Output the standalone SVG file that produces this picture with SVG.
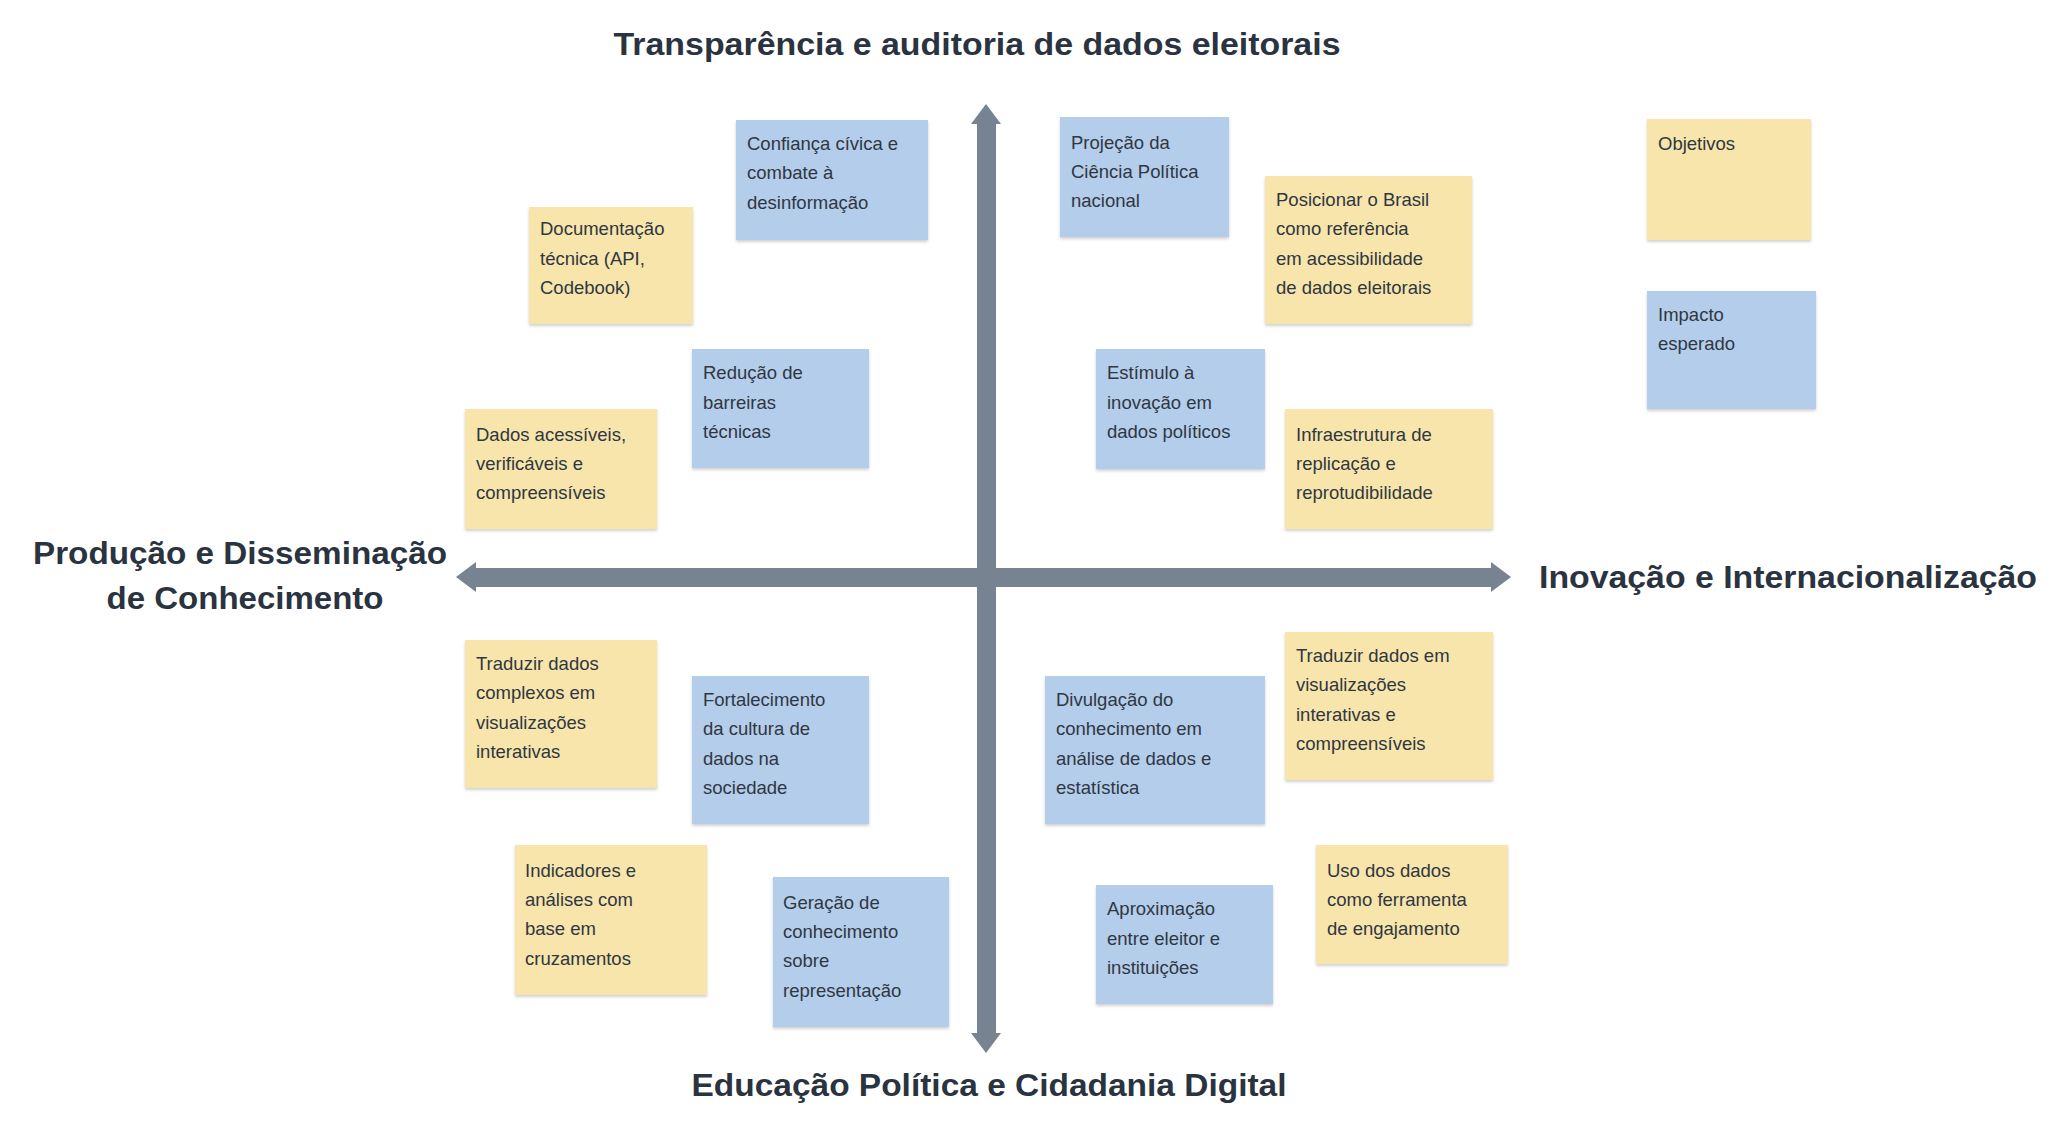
<svg xmlns="http://www.w3.org/2000/svg" width="2066" height="1128" viewBox="0 0 2066 1128">
<defs>
<filter id="sh" x="-5%" y="-5%" width="110%" height="115%"><feDropShadow dx="0" dy="2" stdDeviation="1.5" flood-color="#000" flood-opacity="0.18"/></filter>
</defs>
<style>
.b{fill:#b3cdea;filter:url(#sh)}
.y{fill:#f7e5ab;filter:url(#sh)}
.t{font-family:"Liberation Sans",Arial,sans-serif;font-size:18.5px;fill:#2f3742}
.h{font-family:"Liberation Sans",Arial,sans-serif;font-size:31px;font-weight:bold;fill:#2a3340}
.ax{fill:#778391}
</style>
<rect width="2066" height="1128" fill="#fff"/>
<g id="axes">
<rect class="ax" x="977" y="118" width="19" height="921"/>
<polygon class="ax" points="986,104 1001,124 971,124"/>
<polygon class="ax" points="986,1053 1001,1033 971,1033"/>
<rect class="ax" x="470" y="568" width="1027" height="19"/>
<polygon class="ax" points="456,577 476,562 476,592"/>
<polygon class="ax" points="1511,577 1491,562 1491,592"/>
</g>
<g id="labels">
<text class="h" x="977" y="55" text-anchor="middle" textLength="727" lengthAdjust="spacingAndGlyphs">Transparência e auditoria de dados eleitorais</text>
<text class="h" x="240" y="564" text-anchor="middle" textLength="414" lengthAdjust="spacingAndGlyphs">Produção e Disseminação</text>
<text class="h" x="245" y="609" text-anchor="middle" textLength="277" lengthAdjust="spacingAndGlyphs">de Conhecimento</text>
<text class="h" x="1539" y="588" textLength="498" lengthAdjust="spacingAndGlyphs">Inovação e Internacionalização</text>
<text class="h" x="989" y="1096" text-anchor="middle" textLength="595" lengthAdjust="spacingAndGlyphs">Educação Política e Cidadania Digital</text>
</g>
<g id="n1"><rect class="b" x="736" y="120" width="192" height="120"/><text class="t" x="747"><tspan x="747" y="150">Confiança cívica e</tspan><tspan x="747" y="179">combate à</tspan><tspan x="747" y="209">desinformação</tspan></text></g>
<g id="n2"><rect class="y" x="529" y="207" width="164" height="117"/><text class="t"><tspan x="540" y="235">Documentação</tspan><tspan x="540" y="265">técnica (API,</tspan><tspan x="540" y="294">Codebook)</tspan></text></g>
<g id="n3"><rect class="b" x="692" y="349" width="177" height="119"/><text class="t"><tspan x="703" y="379">Redução de</tspan><tspan x="703" y="409">barreiras</tspan><tspan x="703" y="438">técnicas</tspan></text></g>
<g id="n4"><rect class="y" x="465" y="409" width="192" height="120"/><text class="t"><tspan x="476" y="441">Dados acessíveis,</tspan><tspan x="476" y="470">verificáveis e</tspan><tspan x="476" y="499">compreensíveis</tspan></text></g>
<g id="n5"><rect class="b" x="1060" y="117" width="169" height="120"/><text class="t"><tspan x="1071" y="149">Projeção da</tspan><tspan x="1071" y="178">Ciência Política</tspan><tspan x="1071" y="207">nacional</tspan></text></g>
<g id="n6"><rect class="y" x="1265" y="176" width="207" height="148"/><text class="t"><tspan x="1276" y="206">Posicionar o Brasil</tspan><tspan x="1276" y="235">como referência</tspan><tspan x="1276" y="265">em acessibilidade</tspan><tspan x="1276" y="294">de  dados eleitorais</tspan></text></g>
<g id="n7"><rect class="b" x="1096" y="349" width="169" height="120"/><text class="t"><tspan x="1107" y="379">Estímulo à</tspan><tspan x="1107" y="409">inovação em</tspan><tspan x="1107" y="438">dados políticos</tspan></text></g>
<g id="n8"><rect class="y" x="1285" y="409" width="208" height="120"/><text class="t"><tspan x="1296" y="441">Infraestrutura de</tspan><tspan x="1296" y="470">replicação e</tspan><tspan x="1296" y="499">reprotudibilidade</tspan></text></g>
<g id="n9"><rect class="y" x="1647" y="119" width="164" height="121"/><text class="t"><tspan x="1658" y="150">Objetivos</tspan></text></g>
<g id="n10"><rect class="b" x="1647" y="291" width="169" height="118"/><text class="t"><tspan x="1658" y="321">Impacto</tspan><tspan x="1658" y="350">esperado</tspan></text></g>
<g id="n11"><rect class="y" x="465" y="640" width="192" height="148"/><text class="t"><tspan x="476" y="670">Traduzir dados</tspan><tspan x="476" y="699">complexos em</tspan><tspan x="476" y="729">visualizações</tspan><tspan x="476" y="758">interativas</tspan></text></g>
<g id="n12"><rect class="b" x="692" y="676" width="177" height="148"/><text class="t"><tspan x="703" y="706">Fortalecimento</tspan><tspan x="703" y="735">da cultura de</tspan><tspan x="703" y="765">dados na</tspan><tspan x="703" y="794">sociedade</tspan></text></g>
<g id="n13"><rect class="y" x="515" y="845" width="192" height="150"/><text class="t"><tspan x="525" y="877">Indicadores e</tspan><tspan x="525" y="906">análises com</tspan><tspan x="525" y="935">base em</tspan><tspan x="525" y="965">cruzamentos</tspan></text></g>
<g id="n14"><rect class="b" x="773" y="877" width="176" height="150"/><text class="t"><tspan x="783" y="909">Geração de</tspan><tspan x="783" y="938">conhecimento</tspan><tspan x="783" y="967">sobre</tspan><tspan x="783" y="997">representação</tspan></text></g>
<g id="n15"><rect class="b" x="1045" y="676" width="220" height="148"/><text class="t"><tspan x="1056" y="706">Divulgação do</tspan><tspan x="1056" y="735">conhecimento em</tspan><tspan x="1056" y="765">análise de dados e</tspan><tspan x="1056" y="794">estatística</tspan></text></g>
<g id="n16"><rect class="y" x="1285" y="632" width="208" height="148"/><text class="t"><tspan x="1296" y="662">Traduzir dados em</tspan><tspan x="1296" y="691">visualizações</tspan><tspan x="1296" y="721">interativas e</tspan><tspan x="1296" y="750">compreensíveis</tspan></text></g>
<g id="n17"><rect class="b" x="1096" y="885" width="177" height="119"/><text class="t"><tspan x="1107" y="915">Aproximação</tspan><tspan x="1107" y="945">entre eleitor e</tspan><tspan x="1107" y="974">instituições</tspan></text></g>
<g id="n18"><rect class="y" x="1316" y="845" width="192" height="119"/><text class="t"><tspan x="1327" y="877">Uso dos dados</tspan><tspan x="1327" y="906">como ferramenta</tspan><tspan x="1327" y="935">de engajamento</tspan></text></g>
</svg>
